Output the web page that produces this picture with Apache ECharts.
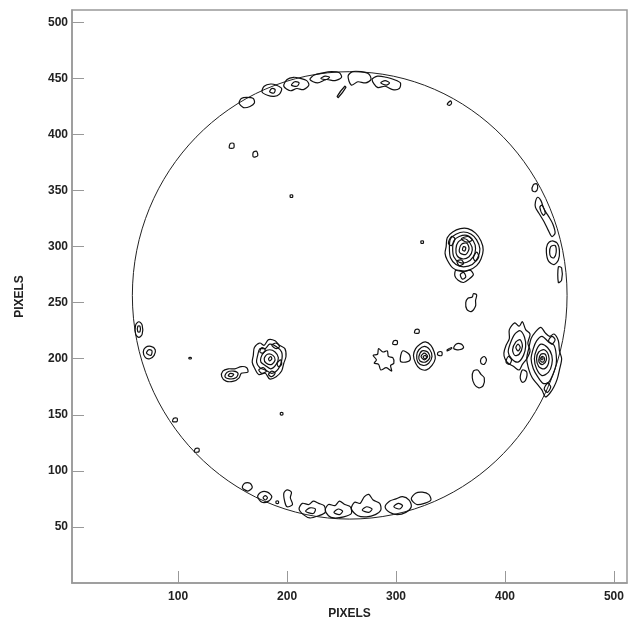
<!DOCTYPE html>
<html>
<head>
<meta charset="utf-8">
<script src="https://cdn.jsdelivr.net/npm/echarts@6/dist/echarts.min.js"></script>
<style>
html,body{margin:0;padding:0;background:#fff;}
#chart{width:634px;height:621px;}
</style>
</head>
<body>
<div id="chart"></div>
<script>
// ---- axis settings (data units = image pixels) ----
const xRange = [2.6, 512];
const yRange = [0, 511];
const axisTitle = 'PIXELS';

// ---- solar limb: [centerX, centerY, radius] ----
const limbCircle = [257.5, 256.5, 199.5];

// ---- contour loops (each loop is a list of [x, y] points) ----
const groupA = [
  [[169,203],[170,210],[175,214],[179,212],[183,217],[189,216],[193,212],[198,209],[199,202],[197,196],[195,189],[190,184],[184,182],[180,187],[174,186],[170,192],[168,197]],
  [[173,203],[175,209],[180,209],[184,213],[190,211],[195,206],[195,198],[192,191],[186,187],[180,190],[175,192],[172,197]],
  [[176,201],[179,206],[184,208],[189,206],[192,201],[190,195],[185,191],[180,194],[176,197]],
  [[179,200],[182,204],[187,203],[189,199],[186,195],[181,196]],
  [[186,212],[190,214],[193,211],[190,209]],
  [[174,190],[178,192],[181,189],[177,187]],
  [[183,200],[185,202],[186,200],[184,198]],
  [[175,206],[177,210],[180,208],[178,205]],
  [[191,196],[194,199],[195,195],[192,193]],
  [[183,186],[186,189],[189,187],[186,184]]
];
const groupA2 = [
  [[140,184],[141,189],[146,191],[152,191],[158,193],[163,192],[164,188],[158,187],[156,183],[151,180],[144,180]],
  [[143,184],[145,188],[151,189],[155,187],[153,183],[147,182]],
  [[146,185],[148,187],[151,186],[149,184]]
];
const groupB = [
  [[346,300],[347,308],[352,313],[359,316],[366,316],[373,312],[378,305],[380,297],[378,289],[374,283],[367,279],[359,278],[352,281],[347,288],[345,294]],
  [[349,299],[350,307],[355,311],[362,313],[369,311],[374,306],[377,298],[375,290],[370,284],[362,282],[355,284],[350,290]],
  [[352,298],[353,305],[358,309],[365,310],[371,305],[373,298],[371,291],[365,286],[358,286],[353,291]],
  [[355,298],[357,304],[363,307],[368,303],[370,297],[367,291],[361,289],[356,292]],
  [[358,297],[360,302],[365,303],[367,298],[364,293],[359,294]],
  [[360,307],[366,309],[370,306],[365,304]],
  [[348,303],[351,309],[354,307],[351,301]],
  [[371,290],[374,295],[376,291],[373,287]],
  [[356,287],[360,288],[362,285],[358,283]],
  [[361,297],[362,300],[364,299],[363,296]],
  [[355,279],[354,274],[357,270],[362,268],[367,271],[371,275],[368,279],[363,278]],
  [[359,275],[362,277],[364,273],[361,271]],
  [[323,303],[323,305],[325,305],[325,303]]
];
const groupC = [
  [[316,203],[318,209],[322,213],[327,215],[332,212],[335,206],[336,200],[333,194],[328,190],[322,191],[318,196]],
  [[319,203],[321,208],[326,211],[331,208],[333,202],[330,196],[325,194],[320,197]],
  [[321,202],[324,207],[329,206],[331,201],[327,197],[322,198]],
  [[323,202],[326,205],[329,202],[326,199]],
  [[325,202],[327,203],[328,201],[326,200]],
  [[317,223],[318,226],[321,226],[321,223]],
  [[297,213],[298,216],[301,216],[301,213]],
  [[279,203],[283,204],[284,209],[288,206],[292,207],[293,202],[297,201],[298,196],[295,194],[296,189],[291,192],[286,190],[284,195],[280,196],[282,199]],
  [[304,198],[306,207],[312,204],[313,199],[309,197]],
  [[338,204],[339,206],[342,206],[342,203],[339,203]],
  [[347,208],[351,210],[351,209],[347,207]],
  [[353,209],[355,213],[360,213],[362,210],[358,208]],
  [[378,196],[378,200],[381,202],[383,199],[381,195]],
  [[370,183],[371,189],[375,190],[378,186],[381,183],[380,176],[376,174],[372,177]],
  [[364,250],[366,254],[370,255],[371,258],[374,257],[373,252],[373,247],[369,242],[365,244]]
];
const groupD = [
  [[399,205],[401,212],[404,218],[404,226],[409,232],[413,229],[416,233],[419,226],[423,222],[421,214],[423,207],[420,200],[416,195],[413,190],[408,193],[403,196],[400,200]],
  [[403,206],[405,214],[409,222],[414,225],[418,219],[419,211],[417,203],[412,197],[406,200]],
  [[407,208],[410,215],[414,217],[416,211],[413,204],[409,203]],
  [[410,210],[412,213],[414,210],[412,207]],
  [[420,200],[422,210],[424,218],[428,224],[433,228],[437,223],[441,220],[445,222],[449,216],[450,207],[452,200],[450,190],[448,182],[445,175],[441,169],[437,166],[434,172],[430,177],[425,183],[422,190]],
  [[424,200],[426,209],[429,216],[434,220],[440,215],[445,212],[447,204],[447,195],[444,186],[440,179],[435,178],[430,184],[426,191]],
  [[427,200],[429,208],[433,213],[439,210],[443,203],[443,195],[440,188],[434,185],[429,191]],
  [[429,200],[431,206],[436,208],[440,203],[440,196],[436,191],[431,193]],
  [[431,199],[433,204],[437,204],[438,199],[435,195],[432,196]],
  [[432,199],[434,202],[436,201],[436,198],[434,197]],
  [[433,200],[434,201],[435,200],[434,199]],
  [[414,183],[416,190],[420,188],[419,181],[416,179]],
  [[401,197],[403,202],[406,199],[404,195]],
  [[440,216],[443,220],[446,217],[443,213]],
  [[436,173],[439,178],[442,175],[439,170]],
  [[428,340],[430,344],[433,341],[436,333],[440,327],[444,320],[446,312],[443,309],[440,314],[436,322],[431,330],[428,335]],
  [[432,335],[434,337],[437,330],[435,328]],
  [[438,295],[439,302],[443,305],[448,303],[450,296],[449,288],[445,284],[440,287]],
  [[441,295],[442,300],[446,301],[447,295],[445,290],[442,291]],
  [[449,268],[449,282],[452,281],[452,270]],
  [[425,350],[426,355],[429,356],[430,352],[428,349]]
];
const topLimb = [
  [[156,428],[158,432],[163,433],[169,432],[170,428],[166,425],[160,424]],
  [[177,438],[179,443],[185,445],[190,444],[195,441],[193,436],[188,434],[182,435]],
  [[184,438],[186,441],[189,440],[188,437]],
  [[197,443],[200,449],[206,451],[212,450],[218,448],[220,444],[215,440],[209,441],[203,439]],
  [[204,444],[207,447],[211,446],[209,443]],
  [[221,449],[225,453],[233,455],[241,456],[248,455],[250,451],[244,448],[236,449],[228,446]],
  [[231,450],[235,452],[239,451],[236,449]],
  [[256,452],[260,456],[268,456],[275,454],[277,449],[272,446],[265,447],[259,444]],
  [[278,449],[283,452],[291,451],[298,449],[304,446],[303,441],[297,440],[290,443],[283,442]],
  [[286,446],[290,448],[294,446],[291,444]],
  [[246,434],[253,443],[254,442],[247,433]],
  [[347,427],[350,430],[351,428],[349,426]]
];
const bottomLimb = [
  [[159,85],[161,89],[166,89],[168,85],[164,82]],
  [[173,77],[176,81],[182,81],[186,77],[183,73],[177,72]],
  [[178,76],[180,78],[182,76],[180,74]],
  [[190,71],[190,73],[192,73],[192,71]],
  [[197,80],[200,83],[204,81],[203,76],[205,70],[200,68],[198,72]],
  [[211,66],[214,71],[220,70],[224,73],[229,71],[234,69],[235,63],[229,60],[221,58],[215,61]],
  [[217,64],[221,67],[226,66],[224,62]],
  [[235,65],[238,70],[244,69],[248,73],[253,70],[258,68],[259,62],[252,59],[243,58],[238,60]],
  [[243,63],[247,66],[251,64],[248,61]],
  [[259,66],[262,72],[267,71],[271,77],[275,79],[279,74],[285,71],[286,65],[281,61],[273,59],[265,60]],
  [[269,65],[273,68],[278,66],[275,63]],
  [[290,68],[294,73],[300,75],[306,77],[312,74],[314,68],[309,63],[301,61],[294,63]],
  [[298,68],[302,71],[306,69],[303,66]],
  [[314,75],[318,80],[324,81],[330,79],[332,74],[326,71],[319,70]]
];
const leftLimb = [
  [[61,222],[61,230],[64,233],[67,230],[67,222],[64,219]],
  [[63,224],[63,229],[65,229],[65,224]],
  [[68,206],[70,210],[75,211],[79,208],[78,203],[74,200],[70,201]],
  [[71,205],[73,208],[76,207],[75,203]]
];
const smallMarks = [
  [[147,388],[148,392],[151,392],[151,388]],
  [[169,380],[169,384],[172,385],[173,381]],
  [[203,344],[203,346],[205,346],[205,344]],
  [[110,200],[110,201],[112,201],[112,200]],
  [[194,150],[194,152],[196,152],[196,150]],
  [[95,144],[96,147],[99,147],[99,144]],
  [[115,117],[116,120],[119,120],[119,117]]
];

const contourLoops = [].concat(groupA, groupA2, groupB, groupC, groupD, topLimb, bottomLimb, leftLimb, smallMarks);

const chart = echarts.init(document.getElementById('chart'), null, {renderer: 'canvas'});

const axisCommon = {
  type: 'value',
  nameLocation: 'middle',
  name: axisTitle,
  nameTextStyle: {fontFamily: 'Liberation Sans', fontWeight: 'bold', fontSize: 12, color: '#222'},
  axisLine: {show: true, lineStyle: {color: '#999', width: 1.5}},
  axisTick: {show: true, inside: true, length: 12, lineStyle: {color: '#999', width: 1}},
  axisLabel: {fontFamily: 'Liberation Sans', fontWeight: 'bold', fontSize: 12, color: '#222', showMinLabel: false, showMaxLabel: false},
  splitLine: {show: false}
};

chart.setOption({
  animation: false,
  backgroundColor: '#fff',
  grid: {left: 72, right: 7, top: 10, bottom: 38, show: true, borderColor: '#999', borderWidth: 1.5,
         containLabel: false, outerBoundsMode: 'none'},
  xAxis: Object.assign({}, axisCommon, {
    min: xRange[0], max: xRange[1], splitNumber: 5, nameGap: 23,
    axisLabel: Object.assign({}, axisCommon.axisLabel, {margin: 8})
  }),
  yAxis: Object.assign({}, axisCommon, {
    min: yRange[0], max: yRange[1], interval: 50, nameGap: 46, nameRotate: 90,
    axisLabel: Object.assign({}, axisCommon.axisLabel, {margin: 4})
  }),
  series: [
    {
      type: 'custom',
      coordinateSystem: 'cartesian2d',
      data: [limbCircle],
      encode: {x: 0, y: 1},
      renderItem: function (params, api) {
        const c = api.coord([api.value(0), api.value(1)]);
        const s = api.size([api.value(2), api.value(2)]);
        return {
          type: 'ellipse',
          shape: {cx: c[0], cy: c[1], rx: s[0], ry: s[1]},
          style: {fill: 'none', stroke: '#222', lineWidth: 1}
        };
      }
    },
    {
      type: 'custom',
      coordinateSystem: 'cartesian2d',
      data: contourLoops.map(function (loop, i) { return [loop[0][0], loop[0][1], i]; }),
      encode: {x: 0, y: 1},
      renderItem: function (params, api) {
        const loop = contourLoops[api.value(2)];
        const pts = loop.map(function (p) { return api.coord(p); });
        return {
          type: 'polygon',
          shape: {points: pts, smooth: 0.3},
          style: {fill: 'none', stroke: '#111', lineWidth: 1.2}
        };
      }
    }
  ]
});
</script>
</body>
</html>
